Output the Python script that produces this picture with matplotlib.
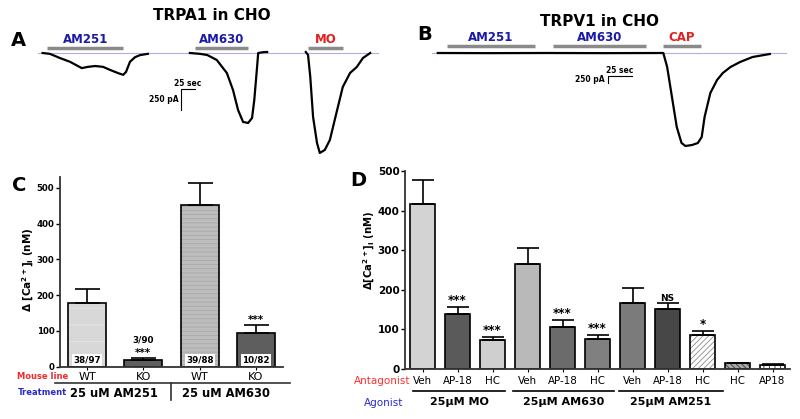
import matplotlib
matplotlib.use('Agg')
import matplotlib.pyplot as plt
import numpy as np

W, H = 800, 419

# ---- panel A: TRPA1 currents (time in s, current in pA)
a1_t = [10, 23, 41, 59, 73, 80, 91, 104, 118, 130, 145, 154, 159, 166, 175, 184, 198]
a1_i = [0, -10, -60, -105, -155, -180, -165, -155, -165, -200, -240, -260, -225, -105, -50, -25, -10]
a2_t = [273, 291, 304, 321, 339, 350, 359, 368, 377, 384, 388, 393, 395, 404, 411]
a2_i = [0, -10, -24, -83, -238, -440, -678, -821, -833, -774, -560, -167, 0, 10, 12]
a3_t = [480, 484, 488, 493, 500, 505, 514, 523, 536, 546, 559, 571, 582, 595]
a3_i = [12, -24, -286, -762, -1071, -1190, -1154, -1035, -678, -405, -238, -167, -60, 0]
a_drugs = ['AM251', 'AM630', 'MO']
a_drug_on = [18, 282, 484]
a_drug_off = [154, 377, 546]
a_drug_col = ['#1a1aa8', '#1a1aa8', '#e02020']

# ---- panel B: TRPV1 current
b_t = [6, 60, 120, 180, 241, 245, 250, 255, 260, 264, 271, 277, 281, 284, 290, 297, 303, 311, 321, 334, 352]
b_i = [0, -5, 0, -5, 0, -500, -1571, -2642, -3213, -3320, -3284, -3213, -2999, -2285, -1428, -964, -714, -500, -321, -143, -36]
b_drugs = ['AM251', 'AM630', 'CAP']
b_drug_on = [16, 126, 241]
b_drug_off = [107, 223, 280]
b_drug_col = ['#1a1aa8', '#1a1aa8', '#e02020']

# ---- panel C
c_labels = ['WT', 'KO', 'WT', 'KO']
c_means = [178, 19, 453, 93]
c_errs = [40, 5, 61, 23]
c_counts = ['38/97', '3/90', '39/88', '10/82']
c_sig = ['', '***', '', '***']
c_treat = ['25 uM AM251', '25 uM AM630']

# ---- panel D
d_labels = ['Veh', 'AP-18', 'HC', 'Veh', 'AP-18', 'HC', 'Veh', 'AP-18', 'HC', 'HC', 'AP18']
d_means = [418, 139, 73, 266, 107, 77, 166, 152, 86, 14, 11]
d_errs = [59, 18, 8, 39, 18, 10, 40, 16, 11, 2, 2]
d_sig = ['', '***', '***', '', '***', '***', '', 'NS', '*', '', '']
d_agonist = ['25\u03bcM MO', '25\u03bcM AM630', '25\u03bcM AM251']

plt.rcParams['hatch.linewidth'] = 0.6


def rect(x0, y0, x1, y1):
    return [x0 / W, 1 - y1 / H, (x1 - x0) / W, (y1 - y0) / H]


fig = plt.figure(figsize=(8, 4.19), dpi=100)
ov = fig.add_axes([0, 0, 1, 1])
ov.set_xlim(0, W)
ov.set_ylim(H, 0)
ov.axis('off')


def trace_panel(r, xlim, ylim, traces, drugs, on, off, cols, bar_i, lab_i, sb, sb_len):
    ax = fig.add_axes(rect(*r))
    ax.set_xlim(*xlim)
    ax.set_ylim(*ylim)
    ax.axis('off')
    ax.plot([xlim[0] + 2, xlim[1] - 4], [0, 0], color='#b4aee0', lw=0.8, zorder=1)
    for t, i in traces:
        ax.plot(t, i, color='black', lw=1.6, zorder=2)
    for name, t0, t1, c in zip(drugs, on, off, cols):
        ax.plot([t0, t1], [bar_i, bar_i], color='#8a8a8a', lw=2.5, solid_capstyle='butt')
        ax.text((t0 + t1) / 2, lab_i, name, ha='center', va='center',
                color=c, fontsize=8.5, fontweight='bold')
    st, si = sb
    ax.plot([st + sb_len[0], st, st], [si, si, si - sb_len[1]], color='black', lw=0.8)
    ax.annotate('25 sec', (st + sb_len[0] / 2, si), xytext=(0, 1), textcoords='offset points',
                ha='center', va='bottom', fontsize=5.5, fontweight='bold')
    ax.annotate('250 pA', (st, si - sb_len[1] / 2), xytext=(-2, 0), textcoords='offset points',
                ha='right', va='center', fontsize=5.5, fontweight='bold')
    return ax


trace_panel((37, 0, 380, 160), (0, 612.5), (-1274, 631),
            [(a1_t, a1_i), (a2_t, a2_i), (a3_t, a3_i)],
            a_drugs, a_drug_on, a_drug_off, a_drug_col, 60, 155, (257, -428), (25, 250))
trace_panel((430, 0, 790, 160), (-2.1, 373), (-3820, 1892),
            [(b_t, b_i)],
            b_drugs, b_drug_on, b_drug_off, b_drug_col, 250, 536, (183, -821), (25, 250))

ov.text(212, 15, 'TRPA1 in CHO', ha='center', va='center', fontsize=11, fontweight='bold')
ov.text(600, 22, 'TRPV1 in CHO', ha='center', va='center', fontsize=11, fontweight='bold')
for s, x, y in [('A', 18, 40), ('B', 425, 35), ('C', 19, 185), ('D', 358, 180)]:
    ov.text(x, y, s, ha='center', va='center', fontsize=14, fontweight='bold')


def style_axes(ax, size):
    for sp in ['top', 'right']:
        ax.spines[sp].set_visible(False)
    for sp in ['left', 'bottom']:
        ax.spines[sp].set_linewidth(1.3)
        ax.spines[sp].set_color('#333333')
    ax.tick_params(axis='y', length=3, width=1, pad=1, labelsize=size)
    for lbl in ax.get_yticklabels():
        lbl.set_fontweight('bold')


# ---- panel C bars
axc = fig.add_axes(rect(60, 176.7, 283, 366.7))
xc = np.arange(len(c_means))
c_face = ['#d8d8d8', '#5e5e5e', '#bdbdbd', '#5e5e5e']
c_hatch = ['-', None, '----', None]
c_hcol = ['#e6e6e6', None, '#a9a9a9', None]
for x, m, f, h, hc in zip(xc, c_means, c_face, c_hatch, c_hcol):
    axc.bar(x, m, 0.675, color=f, hatch=h, edgecolor=hc if hc else f, lw=0)
axc.bar(xc, c_means, 0.675, fill=False, edgecolor='black', lw=1.2)
axc.errorbar(xc, c_means, yerr=[np.zeros(4), c_errs], fmt='none', ecolor='black',
             elinewidth=1.2, capsize=9, capthick=1.2)
axc.set_xlim(-0.48, 3.48)
axc.set_ylim(0, 531)
axc.set_yticks([0, 100, 200, 300, 400, 500])
axc.set_xticks(xc)
axc.set_xticklabels(c_labels, fontsize=8)
axc.tick_params(axis='x', length=2, pad=2)
style_axes(axc, 6.2)
for x, m, e, s, n in zip(xc, c_means, c_errs, c_sig, c_counts):
    if s:
        axc.text(x, m + e + 1, s, ha='center', va='bottom', fontsize=7.5, fontweight='bold')
    if m > 60:
        axc.text(x, 19, n, ha='center', va='center', fontsize=6.3, fontweight='bold',
                 bbox=dict(boxstyle='square,pad=0.15', fc='white', ec='none'))
    else:
        axc.text(x, 76, n, ha='center', va='center', fontsize=6.3, fontweight='bold')
ov.text(28, 270, r'$\mathbf{\Delta\ [Ca^{2+}]_i\ (nM)}$', rotation=90,
        ha='center', va='center', fontsize=7.5)
ov.text(43, 376, 'Mouse line', ha='center', va='center', color='#ee2b2b',
        fontsize=6, fontweight='bold')
ov.text(43, 392, 'Treatment', ha='center', va='center', color='#2b2bcc',
        fontsize=6, fontweight='bold')
ov.plot([55, 290], [383, 383], color='#333333', lw=1.2)
ov.plot([171, 171], [383, 400], color='#333333', lw=1.2)
for s, x in zip(c_treat, [114, 226]):
    ov.text(x, 393, s, ha='center', va='center', fontsize=8.3, fontweight='bold')

# ---- panel D bars
axd = fig.add_axes(rect(405, 171.4, 790, 369))
xd = np.arange(len(d_means))
d_face = ['#d3d3d3', '#5a5a5a', '#cfcfcf', '#b9b9b9', '#6b6b6b', '#808080',
          '#7b7b7b', '#474747', 'white', '#a8a8a8', 'white']
d_hatch = [None] * 8 + ['//////', '\\\\\\\\\\\\', '|||']
d_hcol = [None] * 8 + ['#8a8a8a', '#3a3a3a', '#222222']
for x, m, f, h, hc in zip(xd, d_means, d_face, d_hatch, d_hcol):
    axd.bar(x, m, 0.69, color=f, hatch=h, edgecolor=hc if hc else f, lw=0)
axd.bar(xd, d_means, 0.69, fill=False, edgecolor='black', lw=1.2)
axd.errorbar(xd, d_means, yerr=[np.zeros(len(xd)), d_errs], fmt='none', ecolor='black',
             elinewidth=1.2, capsize=8, capthick=1.2)
axd.set_xlim(-0.5, 10.5)
axd.set_ylim(0, 500)
axd.set_yticks([0, 100, 200, 300, 400, 500])
axd.set_xticks(xd)
axd.set_xticklabels(d_labels, fontsize=7.4)
axd.tick_params(axis='x', length=2, pad=3)
style_axes(axd, 7.5)
for x, m, e, s in zip(xd, d_means, d_errs, d_sig):
    if s:
        axd.text(x, m + e, s, ha='center', va='bottom',
                 fontsize=6.5 if s == 'NS' else 8.5, fontweight='bold')
ov.text(369, 250, r'$\mathbf{\Delta[Ca^{2+}]_i\ (nM)}$', rotation=90,
        ha='center', va='center', fontsize=7.3)
ov.text(410, 381, 'Antagonist', ha='right', va='center', color='#ff3030', fontsize=7.5)
ov.text(384, 403, 'Agonist', ha='center', va='center', color='#2b2bcc', fontsize=7.5)
for (x0, x1), s in zip([(413, 505), (513, 614), (619, 723)], d_agonist):
    ov.plot([x0, x1], [391, 391], color='black', lw=1.2)
    ov.text((x0 + x1) / 2, 402, s, ha='center', va='center', fontsize=8, fontweight='bold')

fig.savefig('out.png', dpi=100)
